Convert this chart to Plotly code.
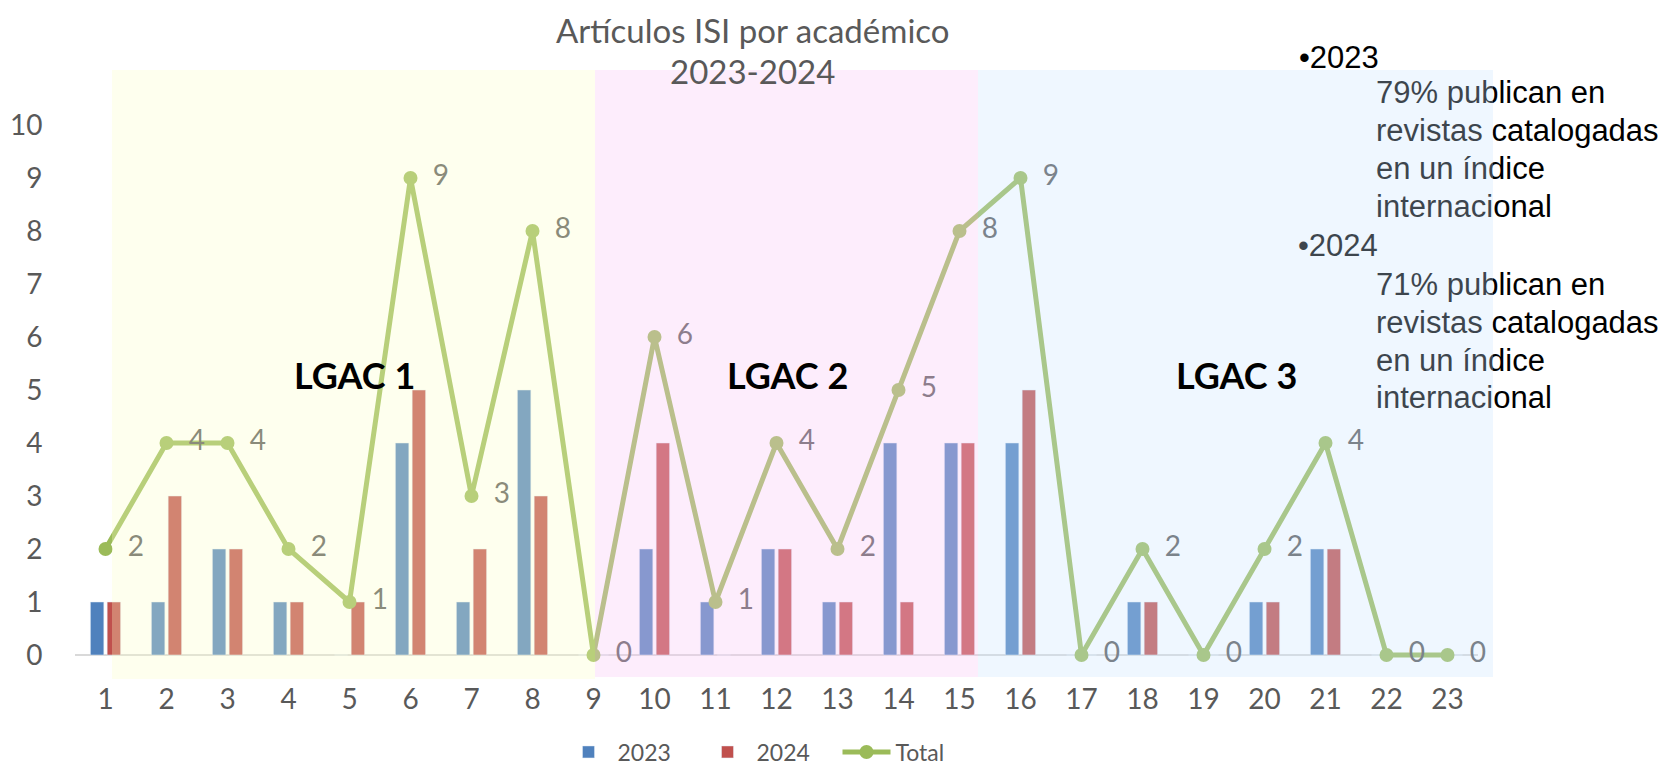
import plotly.graph_objects as go

# ---------------- data ----------------
categories = list(range(1, 24))
y2023 = [1, 1, 2, 1, 0, 4, 1, 5, 0, 2, 1, 2, 1, 4, 4, 4, 0, 1, 0, 1, 2, 0, 0]
y2024 = [1, 3, 2, 1, 1, 5, 2, 3, 0, 4, 0, 2, 1, 1, 4, 5, 0, 1, 0, 1, 2, 0, 0]
total = [2, 4, 4, 2, 1, 9, 3, 8, 0, 6, 1, 4, 2, 5, 8, 9, 0, 2, 0, 2, 4, 0, 0]
y_ticks = list(range(0, 11))
series_names = ["2023", "2024", "Total"]
group_labels = ["LGAC 1", "LGAC 2", "LGAC 3"]
title_lines = ["Artículos ISI por académico", "2023-2024"]
note_head = "•2023"
note_lines = [
    "79% publican en", "revistas catalogadas", "en un índice", "internacional",
    "•2024", "71% publican en", "revistas catalogadas", "en un índice", "internacional",
]

# ---------------- geometry (screen pixels) ----------------
W, H = 1672, 766
SHIFT = 8                                   # default page body margin
PL, PR, PT, PB = 75, 1478, 70, 680          # plot area on screen
Y0 = 655                                    # screen pixel of y = 0
UNIT = 53.0                                 # pixels per y unit
CAT = (PR - PL) / len(categories)

def dx(px):
    return 0.5 + (px - PL) / CAT

def dy(py):
    return (Y0 - py) / UNIT

def xp(px):
    return (px - PL) / (PR - PL)

def yp(py):
    return (PB - py) / (PB - PT)

FONT = "Lato, 'Open Sans', sans-serif"
NOTE_FONT = "'Liberation Sans', Arial, sans-serif"
GRAY = "#595959"
BLUE, RED, GREEN = "#4F81BD", "#C0504D", "#9BBB59"

fig = go.Figure()
fig.add_trace(go.Bar(x=categories, y=y2023, name=series_names[0], marker_color=BLUE))
fig.add_trace(go.Bar(x=categories, y=y2024, name=series_names[1], marker_color=RED))
fig.add_trace(go.Scatter(x=categories, y=total, name=series_names[2], mode="lines+markers",
                         line=dict(color=GREEN, width=5), marker=dict(size=14, color=GREEN)))
# data labels of the Total series (drawn under the translucent bands, like the original)
fig.add_trace(go.Scatter(x=categories, y=total, mode="markers+text", text=[str(v) for v in total],
                         textposition="middle right", marker=dict(size=34, opacity=0),
                         textfont=dict(family=FONT, size=28, color=GRAY),
                         showlegend=False, hoverinfo="skip", cliponaxis=False))

# side note as text (kept under the bands so the tint shows)
note_pos = [(1376, 95), (1376, 133), (1376, 171), (1376, 209),
            (1298, 248), (1376, 287), (1376, 325), (1376, 363), (1376, 400)]
fig.add_trace(go.Scatter(x=[dx(p[0]) for p in note_pos], y=[dy(p[1]) for p in note_pos],
                         mode="text", text=note_lines, textposition="middle right",
                         textfont=dict(family=NOTE_FONT, size=31, color="black"),
                         showlegend=False, hoverinfo="skip", cliponaxis=False))

bands = [
    (112, 595, 679, "rgba(252,255,198,0.30)"),
    (595, 978, 677, "rgba(249,200,246,0.33)"),
    (978, 1493, 677, "rgba(202,228,255,0.30)"),
]
shapes = []
for x0, x1, yb, col in bands:
    shapes.append(dict(type="rect", xref="paper", yref="paper", x0=xp(x0), x1=xp(x1),
                       y0=yp(yb), y1=yp(70), fillcolor=col, line=dict(width=0), layer="above"))

annotations = []
for lbl, cx in zip(group_labels, [354, 787, 1236]):
    annotations.append(dict(text=f"<b>{lbl}</b>", xref="paper", yref="paper", x=xp(cx), y=yp(375),
                            xanchor="center", yanchor="middle", showarrow=False,
                            font=dict(family=FONT, size=36, color="black")))
for txt, cy in zip(title_lines, [30, 71]):
    annotations.append(dict(text=txt, xref="paper", yref="paper", x=xp(752), y=yp(cy),
                            xanchor="center", yanchor="middle", showarrow=False,
                            font=dict(family=FONT, size=33, color=GRAY)))
annotations.append(dict(text=note_head, xref="paper", yref="paper", x=xp(1297), y=yp(57),
                        xanchor="left", yanchor="middle", showarrow=False,
                        font=dict(family=NOTE_FONT, size=31, color="black")))

fig.update_layout(
    width=W, height=H, autosize=False,
    margin=dict(l=PL - SHIFT, r=W - PR + SHIFT, t=PT - SHIFT, b=H - PB + SHIFT, pad=0,
                autoexpand=False),
    plot_bgcolor="white", paper_bgcolor="white",
    barmode="group", bargap=0.45, bargroupgap=0.2,
    font=dict(family=FONT, color=GRAY),
    shapes=shapes, annotations=annotations,
    legend=dict(orientation="h", xref="paper", yref="container",
                x=xp(768), y=(H - (752 - SHIFT)) / H, xanchor="center", yanchor="middle",
                itemwidth=48, entrywidth=76, entrywidthmode="pixels",
                font=dict(family=FONT, size=23, color=GRAY),
                bgcolor="rgba(0,0,0,0)"),
    xaxis=dict(range=[0.5, len(categories) + 0.5], tickmode="array", tickvals=categories,
               ticktext=[str(c) for c in categories], showgrid=False, zeroline=False,
               showline=False, automargin=False,
               tickfont=dict(family=FONT, size=28, color=GRAY)),
    yaxis=dict(range=[dy(PB), dy(PT)], tickmode="array", tickvals=y_ticks,
               ticktext=[str(t) for t in y_ticks], showgrid=False, zeroline=True,
               zerolinecolor="#D9D9D9", zerolinewidth=2, showline=False, automargin=False,
               ticks="outside", ticklen=26, tickcolor="rgba(0,0,0,0)",
               tickfont=dict(family=FONT, size=28, color=GRAY)),
)

fig.write_html("out.html")
